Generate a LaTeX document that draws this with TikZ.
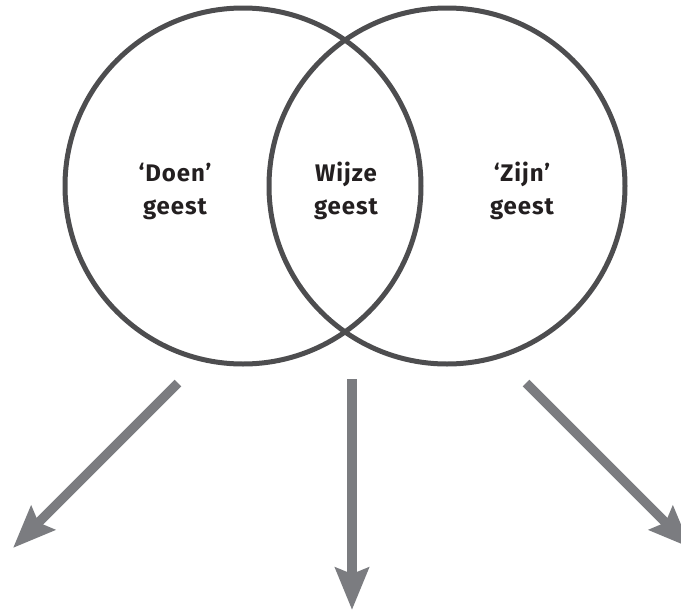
\documentclass[tikz,border=0pt]{standalone}
\usepackage{fontspec}
\setmainfont{Fira Sans}
\newfontfamily\labelfont[LetterSpace=4]{Fira Sans}
\usetikzlibrary{arrows.meta}
\definecolor{ringgray}{HTML}{4D4D4F}
\definecolor{arrowgray}{HTML}{7B7C80}
\definecolor{inkdark}{HTML}{231F20}
\tikzset{
  ring/.style={circle, draw=ringgray, line width=5pt, minimum size=356pt, inner sep=0pt},
  label/.style={align=center, text=inkdark, font=\labelfont\fontsize{24}{33}\selectfont\bfseries, inner sep=0pt},
  flow/.style={draw=arrowgray, line width=9.5pt,
    -{Stealth[length=42pt, width=33pt, inset=6pt, fill=arrowgray]}}
}
\begin{document}
\begin{tikzpicture}[x=1pt, y=-1pt]
  \useasboundingbox (0,0) rectangle (681,611);
  % two overlapping circles
  \node[ring] (doing) at (243,186) {};
  \node[ring] (being) at (447,186) {};
  % labels
  \node[label] (doinglabel) at (175,191) {‘Doen’\\geest};
  \node[label] (wiselabel)  at (346,191) {Wijze\\geest};
  \node[label] (beinglabel) at (522,191) {‘Zijn’\\geest};
  % arrow ends
  \coordinate (lstart) at (178,383);
  \coordinate (lend)   at (13,548);
  \coordinate (mstart) at (352,379);
  \coordinate (mend)   at (352,610);
  \coordinate (rstart) at (526,383);
  \coordinate (rend)   at (691,548);
  \draw[flow] (lstart) -- (lend);
  \draw[flow] (mstart) -- (mend);
  \draw[flow] (rstart) -- (rend);
\end{tikzpicture}
\end{document}
